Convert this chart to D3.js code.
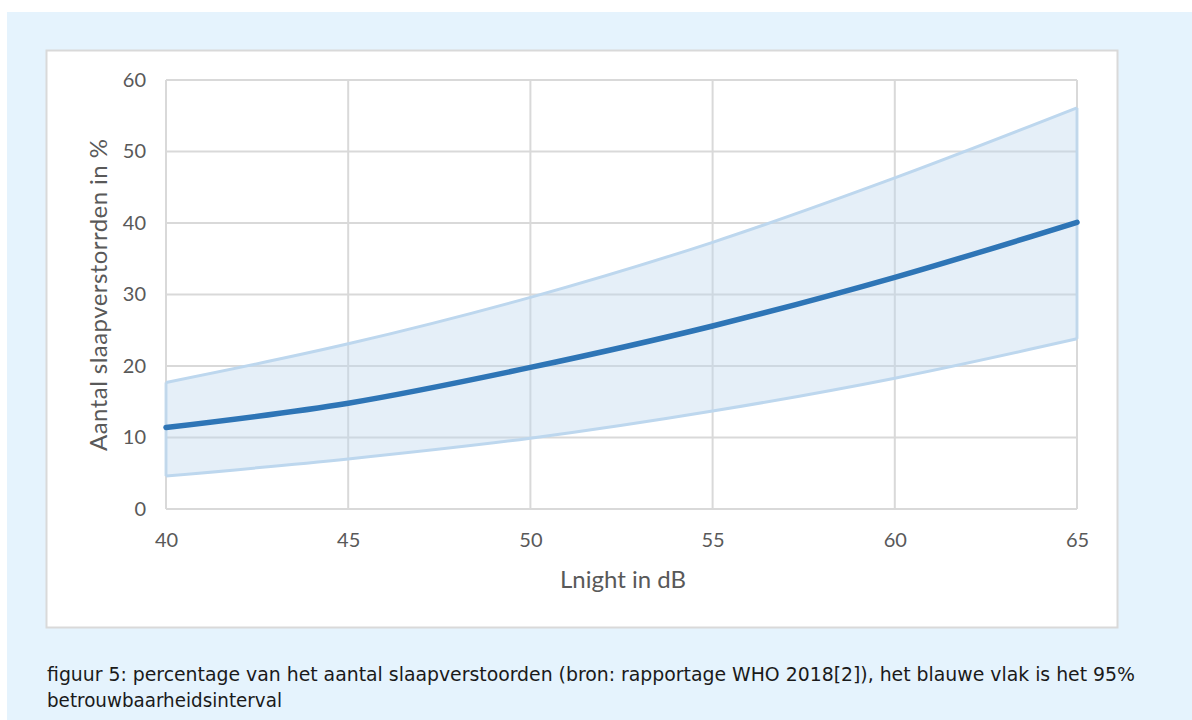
<!DOCTYPE html>
<html><head><meta charset="utf-8">
<script src="https://cdn.jsdelivr.net/npm/d3@7"></script>
<style>html,body{margin:0;padding:0;background:#fff;}</style>
</head><body>
<svg id="c" width="1192" height="720"></svg>
<script>
const xValues = [40, 45, 50, 55, 60, 65];
const meanValues = [11.4, 14.8, 19.8, 25.6, 32.4, 40.1];
const upperValues = [17.7, 23.1, 29.6, 37.3, 46.3, 56.1];
const lowerValues = [4.6, 7.0, 9.9, 13.7, 18.3, 23.8];
const xTicks = [40, 45, 50, 55, 60, 65];
const yTicks = [0, 10, 20, 30, 40, 50, 60];
const xTitle = "Lnight in dB";
const yTitle = "Aantal slaapverstorrden in %";
const caption1 = "figuur 5: percentage van het aantal slaapverstoorden (bron: rapportage WHO 2018[2]), het blauwe vlak is het 95%";
const caption2 = "betrouwbaarheidsinterval";

const svg = d3.select("#c");
svg.append("rect").attr("x",7).attr("y",12).attr("width",1185).attr("height",708).attr("fill","#e5f3fd");
svg.append("rect").attr("x",46.5).attr("y",50.5).attr("width",1071).attr("height",577).attr("fill","#fff").attr("stroke","#d9d9d9").attr("stroke-width",2);

const x = d3.scaleLinear().domain([40,65]).range([166,1077]);
const y = d3.scaleLinear().domain([0,60]).range([509,80]);
const font = "Lato, 'Open Sans', sans-serif";
const g = svg.append("g");

g.selectAll(".hg").data(yTicks).join("line").attr("x1",x(40)).attr("x2",x(65))
  .attr("y1",d=>y(d)).attr("y2",d=>y(d)).attr("stroke","#d9d9d9").attr("stroke-width",2);
g.selectAll(".vg").data(xTicks).join("line").attr("y1",y(0)).attr("y2",y(60))
  .attr("x1",d=>x(d)).attr("x2",d=>x(d)).attr("stroke","#d9d9d9").attr("stroke-width",2);

const data = xValues.map((v,i)=>({x:v,m:meanValues[i],u:upperValues[i],l:lowerValues[i]}));
const area = d3.area().x(d=>x(d.x)).y0(d=>y(d.l)).y1(d=>y(d.u)).curve(d3.curveMonotoneX);
g.append("path").datum(data).attr("d",area).attr("fill","#bdd7ee").attr("fill-opacity",0.4);
const edge = (k)=>d3.line().x(d=>x(d.x)).y(d=>y(d[k])).curve(d3.curveMonotoneX);
["u","l"].forEach(k=>g.append("path").datum(data).attr("d",edge(k)).attr("fill","none").attr("stroke","#bdd7ee").attr("stroke-width",3));
[data[0], data[data.length-1]].forEach(d=>g.append("line").attr("x1",x(d.x)).attr("x2",x(d.x)).attr("y1",y(d.l)).attr("y2",y(d.u)).attr("stroke","#bdd7ee").attr("stroke-width",3).attr("stroke-opacity",0.8));
g.append("path").datum(data).attr("d",edge("m")).attr("fill","none").attr("stroke","#2e75b6").attr("stroke-width",5.5).attr("stroke-linecap","round");

const xa = svg.append("g").attr("transform",`translate(0,${y(0)})`).call(d3.axisBottom(x).tickValues(xTicks).tickSize(0).tickPadding(24));
const ya = svg.append("g").attr("transform",`translate(${x(40)},0)`).call(d3.axisLeft(y).tickValues(yTicks).tickSize(0).tickPadding(20));
[xa,ya].forEach(a=>{a.select(".domain").remove();a.selectAll("text").attr("fill","#595959").style("font-family",font).style("font-size","20px");});
xa.selectAll("text").attr("dy","0.71em");

svg.append("text").attr("x",623).attr("y",588).attr("text-anchor","middle").attr("fill","#595959")
  .style("font-family",font).style("font-size","24px").text(xTitle);
svg.append("text").attr("transform",`translate(107,295) rotate(-90)`).attr("text-anchor","middle").attr("fill","#595959")
  .style("font-family",font).style("font-size","24px").attr("textLength",312).text(yTitle);

const cf = "'DejaVu Sans Condensed', 'DejaVu Sans', sans-serif";
svg.append("text").attr("x",47).attr("y",681).attr("fill","#1a1a1a").style("font-family",cf).style("font-size","19px")
  .attr("textLength",1088).attr("lengthAdjust","spacingAndGlyphs").text(caption1);
svg.append("text").attr("x",47).attr("y",707).attr("fill","#1a1a1a").style("font-family",cf).style("font-size","19px")
  .attr("textLength",235).attr("lengthAdjust","spacingAndGlyphs").text(caption2);
</script>
</body></html>
